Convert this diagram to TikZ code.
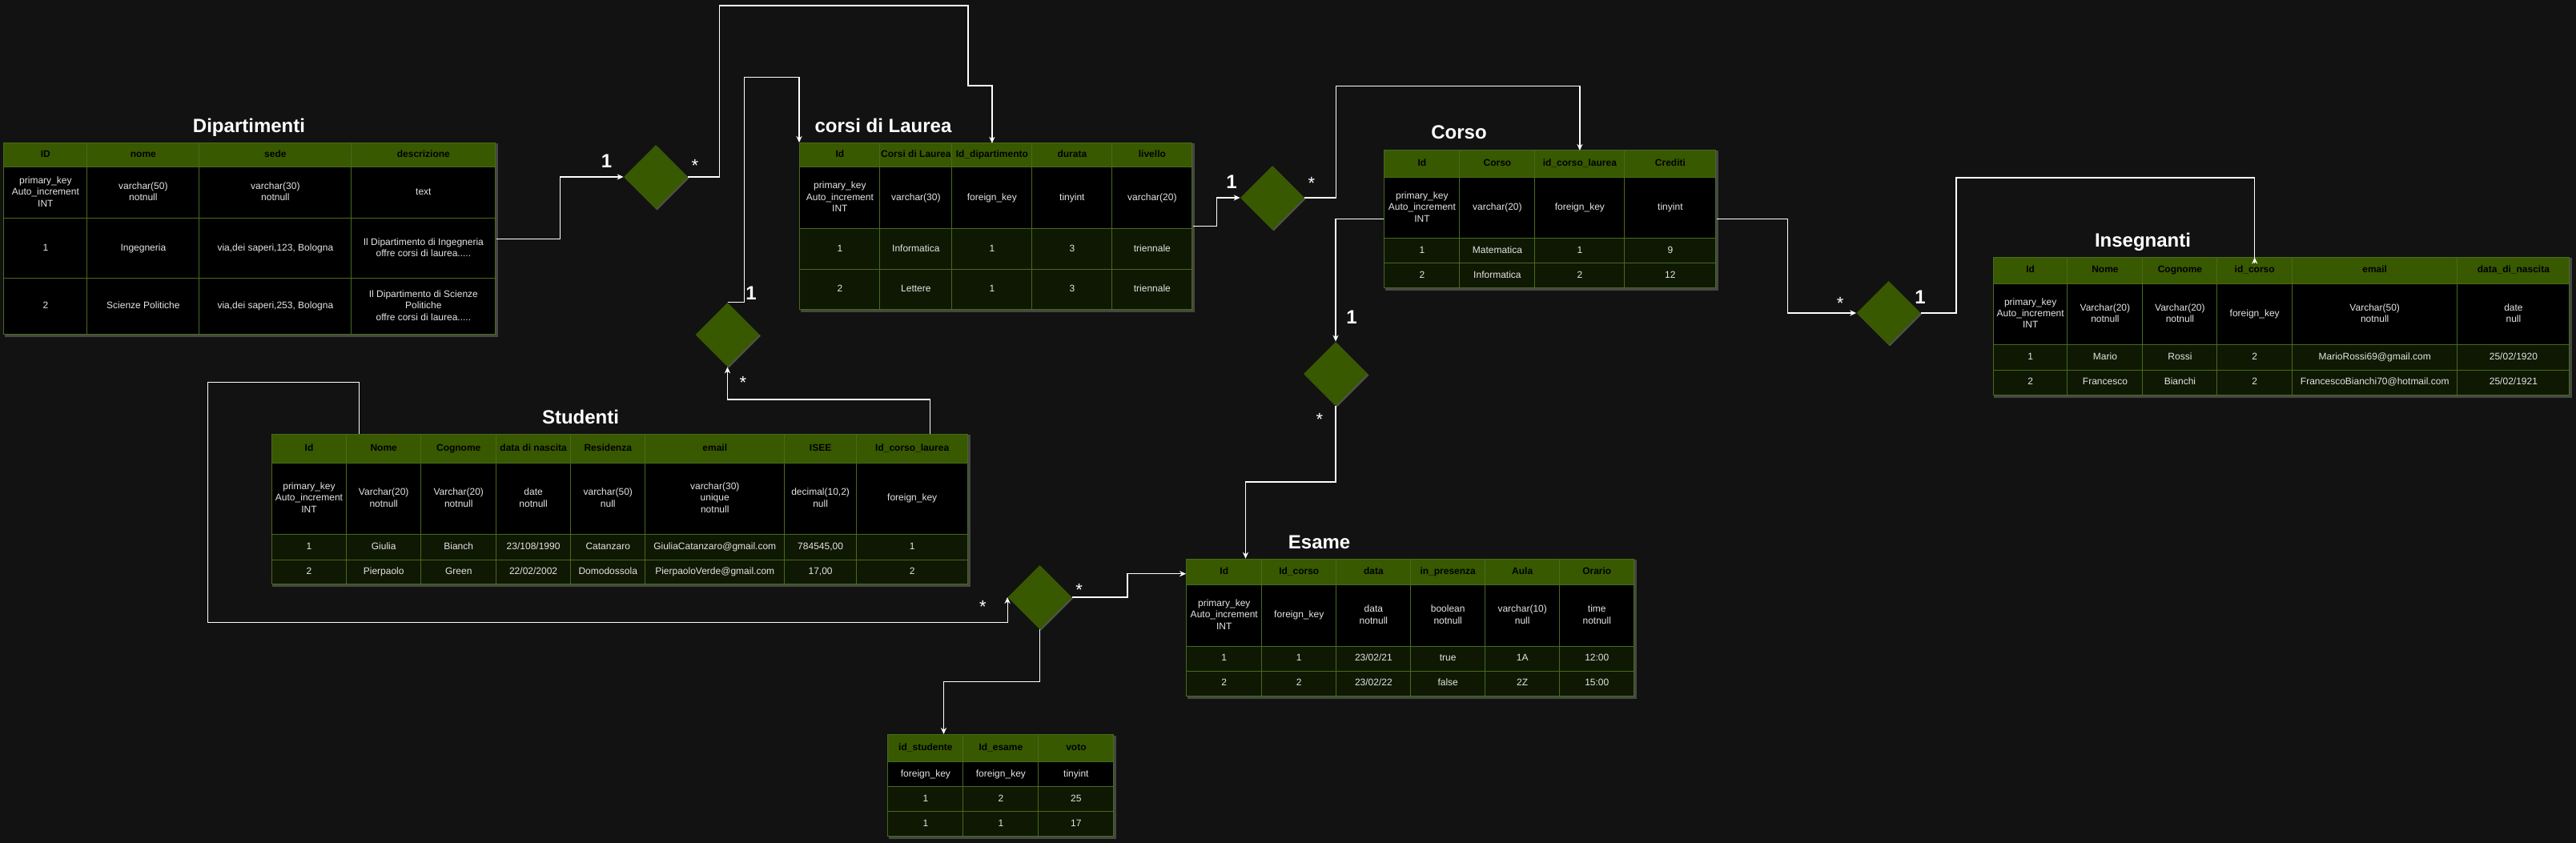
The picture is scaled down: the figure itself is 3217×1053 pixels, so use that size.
\documentclass[tikz,border=0pt]{standalone}
\usepackage{fontspec}
\setmainfont{Liberation Sans}
\usetikzlibrary{arrows.meta,calc,matrix,positioning,shapes.geometric,shadows,backgrounds}

\definecolor{bgcol}{RGB}{18,18,18}
\definecolor{hdrgreen}{RGB}{56,89,0}
\definecolor{rowgreen}{RGB}{14,24,2}
\definecolor{gridgreen}{RGB}{72,106,28}
\definecolor{glow}{RGB}{120,124,112}

\newcommand{\ml}[1]{\begin{tabular}{@{}c@{}}#1\end{tabular}}

\tikzset{
  cell/.style={draw=gridgreen, line width=0.5pt, outer sep=0pt, inner xsep=0.5pt, inner ysep=1pt,
    text=white!90!black, font=\fontsize{6}{7.2}\selectfont, execute at begin node=\strut},
  headcell/.style={cell, fill=hdrgreen, text=black, font=\fontsize{6}{7.2}\selectfont\bfseries},
  typecell/.style={cell, fill=black},
  datacell/.style={cell, fill=rowgreen},
  colw/.style args={#1:#2}{column #1/.style={nodes={minimum width=#2}}},
  rowh/.style n args={4}{
    row 1/.style={nodes={headcell, minimum height=#1}},
    row 2/.style={nodes={typecell, minimum height=#2}},
    row 3/.style={nodes={datacell, minimum height=#3}},
    row 4/.style={nodes={datacell, minimum height=#4}}},
  dbtable/.style={matrix of nodes, nodes in empty cells, anchor=north west, inner sep=0pt,
    column sep=-0.5pt, row sep=-0.5pt, nodes={anchor=center}},
  tabglow/.style={fill=glow, opacity=0.5},
  tabtitle/.style={text=white, font=\fontsize{12}{14}\selectfont\bfseries, anchor=base},
  rel/.style={diamond, fill=hdrgreen, minimum width=40pt, minimum height=40pt, inner sep=0pt,
    drop shadow={shadow xshift=0.8pt, shadow yshift=-0.8pt, fill=glow, opacity=0.6}},
  one/.style={text=white, font=\fontsize{12}{14}\selectfont\bfseries, anchor=base},
  many/.style={text=white, font=\fontsize{11}{13}\selectfont, anchor=base},
  link/.style={draw=white, line width=0.6pt, -{Stealth[length=4pt,width=3.6pt]}},
  wire/.style={draw=white, line width=0.6pt},
}

\begin{document}
\begin{tikzpicture}[x=0.5pt,y=-0.5pt]
\begin{scope}[on background layer]
\path[use as bounding box, fill=bgcol] (0,0) rectangle (3217,1053);
\end{scope}

% tabelle
\node[tabtitle] (diptitle) at (311,166) {Dipartimenti};
\matrix (dip) [dbtable, datacell/.style={typecell},
  colw/.list={1:52pt,2:70pt,3:95pt,4:90pt}, rowh={15pt}{32pt}{37.5pt}{35pt}] at (4,178) {
ID & nome & sede & descrizione \\
\ml{primary\_key\\Auto\_increment\\INT} & \ml{varchar(50)\\notnull} & \ml{varchar(30)\\notnull} & text \\
1 & Ingegneria & via,dei saperi,123, Bologna & \ml{Il Dipartimento di Ingegneria\\offre corsi di laurea.....} \\
2 & Scienze Politiche & via,dei saperi,253, Bologna & \ml{Il Dipartimento di Scienze\\Politiche\\offre corsi di laurea.....} \\
};

\node[tabtitle] (cdltitle) at (1103,166) {corsi di Laurea};
\matrix (cdl) [dbtable,
  colw/.list={1:50pt,2:45pt,3:50pt,4:50pt,5:50pt}, rowh={15pt}{38.5pt}{25.5pt}{25pt}] at (998,178) {
Id & Corsi di Laurea & Id\_dipartimento & durata & livello \\
\ml{primary\_key\\Auto\_increment\\INT} & varchar(30) & foreign\_key & tinyint & varchar(20) \\
1 & Informatica & 1 & 3 & triennale \\
2 & Lettere & 1 & 3 & triennale \\
};

\node[tabtitle] (corsotitle) at (1822,174) {Corso};
\matrix (corso) [dbtable,
  colw/.list={1:47pt,2:47pt,3:56pt,4:57pt}, rowh={17pt}{38pt}{15.5pt}{15.5pt}] at (1728,187) {
Id & Corso & id\_corso\_laurea & Crediti \\
\ml{primary\_key\\Auto\_increment\\INT} & varchar(20) & foreign\_key & tinyint \\
1 & Matematica & 1 & 9 \\
2 & Informatica & 2 & 12 \\
};

\node[tabtitle] (institle) at (2676,309) {Insegnanti};
\matrix (ins) [dbtable,
  colw/.list={1:46.25pt,2:47pt,3:46.5pt,4:46.8pt,5:103.2pt,6:70pt}, rowh={16.5pt}{38pt}{16pt}{15.5pt}] at (2488.5,320.7) {
Id & Nome & Cognome & id\_corso & email & data\_di\_nascita \\
\ml{primary\_key\\Auto\_increment\\INT} & \ml{Varchar(20)\\notnull} & \ml{Varchar(20)\\notnull} & foreign\_key & \ml{Varchar(50)\\notnull} & \ml{date\\null} \\
1 & Mario & Rossi & 2 & MarioRossi69@gmail.com & 25/02/1920 \\
2 & Francesco & Bianchi & 2 & FrancescoBianchi70@hotmail.com & 25/02/1921 \\
};

\node[tabtitle] (stutitle) at (725,529) {Studenti};
\matrix (stu) [dbtable,
  colw/.list={1:46.5pt,2:46.7pt,3:46.85pt,4:46.5pt,5:46.65pt,6:86.85pt,7:45pt,8:69.6pt},
  rowh={18pt}{44.5pt}{16pt}{15pt}] at (338.6,541.7) {
Id & Nome & Cognome & data di nascita & Residenza & email & ISEE & Id\_corso\_laurea \\
\ml{primary\_key\\Auto\_increment\\INT} & \ml{Varchar(20)\\notnull} & \ml{Varchar(20)\\notnull} & \ml{date\\notnull} & \ml{varchar(50)\\null} & \ml{varchar(30)\\unique\\notnull} & \ml{decimal(10,2)\\null} & foreign\_key \\
1 & Giulia & Bianch & 23/108/1990 & Catanzaro & GiuliaCatanzaro@gmail.com & 784545,00 & 1 \\
2 & Pierpaolo & Green & 22/02/2002 & Domodossola & PierpaoloVerde@gmail.com & 17,00 & 2 \\
};

\node[tabtitle] (esatitle) at (1647.6,685.3) {Esame};
\matrix (esa) [dbtable,
  colw/.list={1:46.85pt,2:46.65pt,3:46.5pt,4:46.3pt,5:46.7pt,6:46.35pt}, rowh={16pt}{38.5pt}{15.5pt}{15.5pt}] at (1481,697.7) {
Id & Id\_corso & data & in\_presenza & Aula & Orario \\
\ml{primary\_key\\Auto\_increment\\INT} & foreign\_key & \ml{data\\notnull} & \ml{boolean\\notnull} & \ml{varchar(10)\\null} & \ml{time\\notnull} \\
1 & 1 & 23/02/21 & true & 1A & 12:00 \\
2 & 2 & 23/02/22 & false & 2Z & 15:00 \\
};

\matrix (vot) [dbtable,
  colw/.list={1:47pt,2:47pt,3:47pt}, rowh={17pt}{15.5pt}{15.5pt}{15.5pt}] at (1108,917) {
id\_studente & Id\_esame & voto \\
foreign\_key & foreign\_key & tinyint \\
1 & 2 & 25 \\
1 & 1 & 17 \\
};

% alone delle tabelle
\begin{scope}[on background layer]
\foreach \t in {dip,cdl,corso,ins,stu,esa,vot}
  \fill[tabglow] ($(\t.south west)+(1.5,2.5)$) rectangle ($(\t.north east)+(2.5,1.5)$);
\end{scope}

% relazioni
\node[rel] (r1) at (819,221) {};
\node[rel] (r2) at (908.5,418) {};
\node[rel] (r3) at (1298.5,746) {};
\node[rel] (r4) at (1589,247) {};
\node[rel] (r5) at (1668,467) {};
\node[rel] (r6) at (2358.5,391) {};

\node[one] (r1one) at (757.6,209.3) {1};
\node[many] (r1many) at (868,215) {*};
\node[one] (r2one) at (938,375) {1};
\node[many] (r2many) at (928,486) {*};
\node[many] (r3left) at (1227.5,765) {*};
\node[many] (r3right) at (1347.7,744.5) {*};
\node[one] (r4one) at (1538,235.4) {1};
\node[many] (r4many) at (1638,236.4) {*};
\node[one] (r5one) at (1688,405) {1};
\node[many] (r5many) at (1648,531.4) {*};
\node[many] (r6many) at (2298,387) {*};
\node[one] (r6one) at (2398,380) {1};

% collegamenti
\draw[link] (dip.east) -- ++(80,0) |- (r1.west);
\draw[link] (r1.east) -- ++(39,0) -- ++(0,-214) -- ++(310.5,0) -- ++(0,100) -| (cdl-1-3.north);
\draw[link] ($(stu.north east)+(-48,0)$) -- ++(0,-42.7) -| (r2.south);
\draw[link] (r2.north) -- ++(21,0) -- ++(0,-281) -| (cdl.north west);
\draw[link] (cdl.east) -- ++(30,0) |- (r4.west);
\draw[link] (r4.east) -- ++(39.4,0) -- ++(0,-139.5) -| (corso-1-3.north);
\draw[link] (corso.west) -| (r5.north);
\draw[link] (r5.south) -- ++(0,94.5) -| ($(esa.north west)+(74.5,0)$);
\draw[link] (corso.east) -- ++(88.3,0) |- (r6.west);
\draw[wire] (r6.east) -- ++(44,0) |- ($(ins-1-4.north)+(0,-99.5)$) -- (ins-1-4.north);
\draw[link] ($(ins-1-4.north)+(0,7)$) -- (ins-1-4.north);
\draw[link] ($(stu.north west)+(110,0)$) -- ++(0,-64) -| ++(-189,300) -| (r3.west);
\draw[link] (r3.east) -- ++(69,0) |- ($(esa.north west)+(0,19)$);
\draw[link] (r3.south) -- ++(0,65) -| ($(vot.north west)+(70.5,0)$);
\end{tikzpicture}
\end{document}
